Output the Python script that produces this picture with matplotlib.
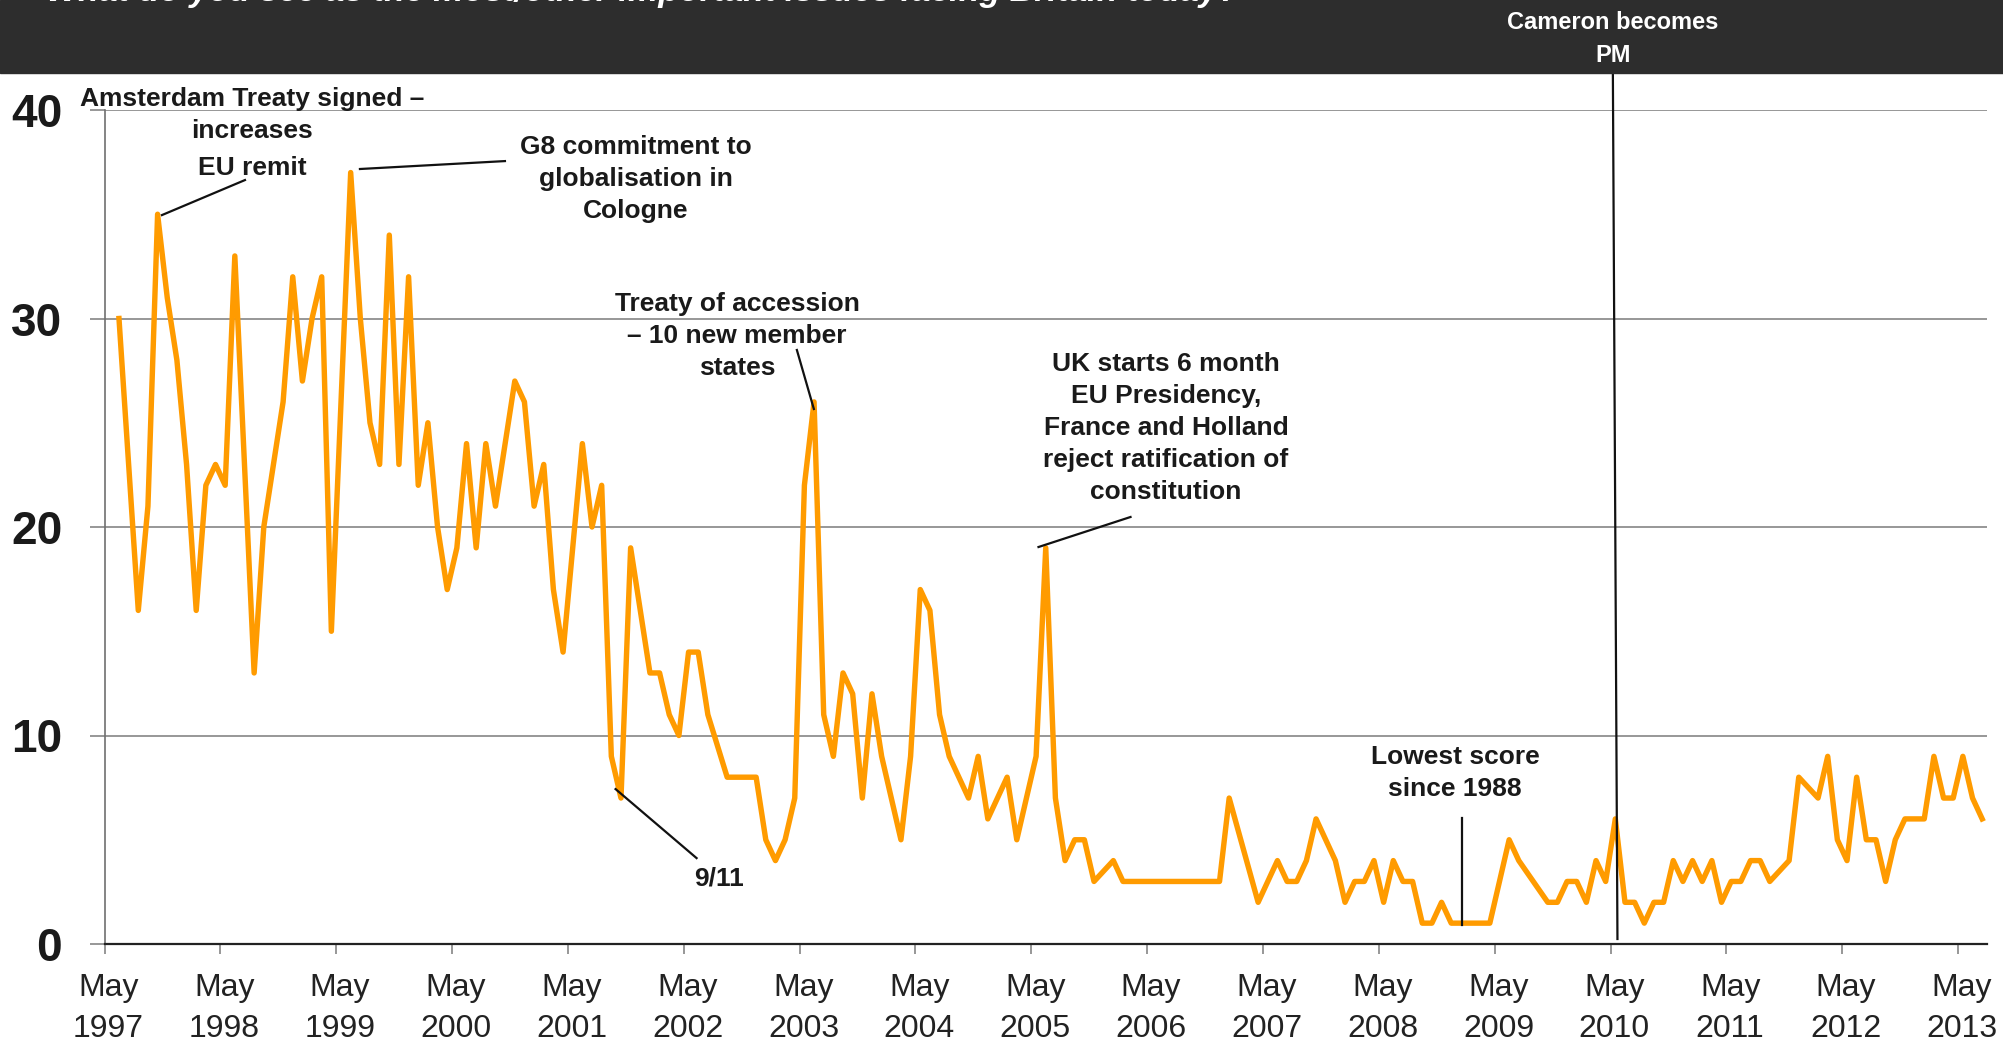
import numpy as np
import pandas as pd
import matplotlib
matplotlib.use('Agg')
import matplotlib.pyplot as plt
from matplotlib.patches import Rectangle

plt.rcParams['font.family'] = ['Liberation Sans', 'DejaVu Sans']

# survey months and the share (%) naming Europe / EU as an important issue
months = [
    '1997-05', '1997-07', '1997-08', '1997-09', '1997-10', '1997-11', '1997-12',
    '1998-01', '1998-02', '1998-03', '1998-04', '1998-05', '1998-07', '1998-08', '1998-10', '1998-11', '1998-12',
    '1999-01', '1999-02', '1999-03', '1999-05', '1999-06', '1999-07', '1999-08', '1999-09', '1999-10', '1999-11', '1999-12',
    '2000-01', '2000-02', '2000-03', '2000-04', '2000-05', '2000-06', '2000-07', '2000-08', '2000-09', '2000-10', '2000-11', '2000-12',
    '2001-01', '2001-02', '2001-03', '2001-05', '2001-06', '2001-07', '2001-08', '2001-09', '2001-10', '2001-12',
    '2002-01', '2002-02', '2002-03', '2002-04', '2002-05', '2002-06', '2002-08', '2002-09', '2002-10', '2002-11', '2002-12',
    '2003-01', '2003-02', '2003-03', '2003-04', '2003-05', '2003-06', '2003-07', '2003-08', '2003-09', '2003-10', '2003-11', '2003-12',
    '2004-02', '2004-03', '2004-04', '2004-05', '2004-06', '2004-07', '2004-09', '2004-10', '2004-11',
    '2005-01', '2005-02', '2005-04', '2005-05', '2005-06', '2005-07', '2005-08', '2005-09', '2005-10', '2005-12',
    '2006-01', '2006-02', '2006-03', '2006-04', '2006-05', '2006-06', '2006-07', '2006-08', '2006-09', '2006-10', '2006-11', '2006-12',
    '2007-03', '2007-05', '2007-06', '2007-07', '2007-08', '2007-09', '2007-11', '2007-12',
    '2008-01', '2008-02', '2008-03', '2008-04', '2008-05', '2008-06', '2008-07', '2008-08', '2008-09', '2008-10', '2008-11', '2008-12',
    '2009-01', '2009-02', '2009-03', '2009-05', '2009-06', '2009-09', '2009-10', '2009-11', '2009-12',
    '2010-01', '2010-02', '2010-03', '2010-04', '2010-05', '2010-06', '2010-07', '2010-08', '2010-09', '2010-10', '2010-11', '2010-12',
    '2011-01', '2011-02', '2011-03', '2011-04', '2011-05', '2011-06', '2011-07', '2011-08', '2011-10', '2011-11',
    '2012-01', '2012-02', '2012-03', '2012-04', '2012-05', '2012-06', '2012-07', '2012-08', '2012-09', '2012-10', '2012-11', '2012-12',
    '2013-01', '2013-02', '2013-03', '2013-04', '2013-05', '2013-06',
]
share = [
    30, 16, 21, 35, 31, 28, 23,
    16, 22, 23, 22, 33, 13, 20, 26, 32, 27,
    30, 32, 15, 37, 30, 25, 23, 34, 23, 32, 22,
    25, 20, 17, 19, 24, 19, 24, 21, 24, 27, 26, 21,
    23, 17, 14, 24, 20, 22, 9, 7, 19, 13,
    13, 11, 10, 14, 14, 11, 8, 8, 8, 8, 5,
    4, 5, 7, 22, 26, 11, 9, 13, 12, 7, 12, 9,
    5, 9, 17, 16, 11, 9, 7, 9, 6,
    8, 5, 9, 19, 7, 4, 5, 5, 3, 4,
    3, 3, 3, 3, 3, 3, 3, 3, 3, 3, 3, 7,
    2, 4, 3, 3, 4, 6, 4, 2,
    3, 3, 4, 2, 4, 3, 3, 1, 1, 2, 1, 1,
    1, 1, 1, 5, 4, 2, 2, 3, 3,
    2, 4, 3, 6, 2, 2, 1, 2, 2, 4, 3, 4,
    3, 4, 2, 3, 3, 4, 4, 3, 4, 8,
    7, 9, 5, 4, 8, 5, 5, 3, 5, 6, 6, 6,
    9, 7, 7, 9, 7, 6,
]
tick_years = list(range(1997, 2014))
tick_labels = [f'May\n{y}' for y in tick_years]

W, H = 2003, 1041
periods = pd.PeriodIndex(months, freq='M')
x = np.array([(p - periods[0]).n for p in periods])

fig = plt.figure(figsize=(W / 100, H / 100), dpi=100)
ax = fig.add_axes([104.5 / W, 1 - 944 / H, (1987 - 104.5) / W, (944 - 110) / H])

# dark header band, question text runs off the top as in the slide
fig.patches.append(Rectangle((0, 1 - 73 / H), 1, 73 / H, transform=fig.transFigure,
                             color='#2d2d2d', zorder=0))
fig.text(46 / W, 1 - 1 / H, 'What do you see as the most/other important issues facing Britain today?',
         color='white', fontsize=24.5, fontweight='bold', fontstyle='italic', ha='left', va='baseline')

ax.plot(x, share, color='#ff9b00', lw=3.9, solid_joinstyle='round', zorder=3)

ax.set_xlim(-1.5, 193.5)
ax.set_ylim(0, 40)
ax.set_yticks([0, 10, 20, 30, 40])
ax.yaxis.grid(True, color='#858585', lw=1.2)
ax.set_axisbelow(True)
for s in ['top', 'right']:
    ax.spines[s].set_visible(False)
ax.spines['left'].set_color('#707070')
ax.spines['left'].set_linewidth(1.2)
ax.spines['bottom'].set_color('#222222')
ax.spines['bottom'].set_linewidth(1.6)
ax.tick_params(axis='y', direction='out', length=10.5, width=1.2, color='#858585', pad=20,
               labelsize=33, labelcolor='#1a1a1a')
for t in ax.get_yticklabels():
    t.set_fontweight('bold')

major = [-1.5 + 12 * k for k in range(len(tick_years))]
ax.set_xticks(major)
ax.set_xticklabels([''] * len(major))
ax.set_xticks([m + 0.4 for m in major], minor=True)
ax.set_xticklabels(tick_labels, minor=True, linespacing=1.45)
ax.tick_params(axis='x', which='major', direction='out', length=7, width=1.2, color='#858585')
ax.tick_params(axis='x', which='minor', length=0, pad=21, labelsize=23, labelcolor='#222222')


def lines_at(lines, cx, baselines, color='#1a1a1a', size=19):
    for txt, b in zip(lines, baselines):
        fig.text(cx / W, 1 - b / H, txt, ha='center', va='baseline', fontsize=size,
                 fontweight='bold', color=color)


def leader(x0, y0, x1, y1):
    ax.plot([x0, x1], [y0, y1], color='#111111', lw=1.6, clip_on=False, zorder=4)


lines_at(['Amsterdam Treaty signed \u2013', 'increases', 'EU remit'], 252, [106, 138, 175])
leader(4.45, 34.96, 13.05, 36.64)

lines_at(['G8 commitment to', 'globalisation in', 'Cologne'], 636, [154, 186, 218])
leader(24.96, 37.17, 39.98, 37.55)

lines_at(['Treaty of accession', '\u2013 10 new member', 'states'], 737, [311, 343, 375])
leader(71.98, 25.66, 70.22, 28.49)

lines_at(['UK starts 6 month', 'EU Presidency,', 'France and Holland',
          'reject ratification of', 'constitution'], 1166, [371, 403, 435, 467, 499])
leader(95.25, 19.04, 104.78, 20.48)

lines_at(['9/11'], 719, [885])
leader(51.44, 7.43, 59.83, 4.12)

lines_at(['Lowest score', 'since 1988'], 1455, [764, 796])
leader(139.1, 6.04, 139.1, 0.91)

lines_at(['Cameron becomes', 'PM'], 1613, [29, 62], color='white', size=17)
leader(154.74, 42.25, 155.22, 0.24)

fig.savefig('out.png', dpi=100)
